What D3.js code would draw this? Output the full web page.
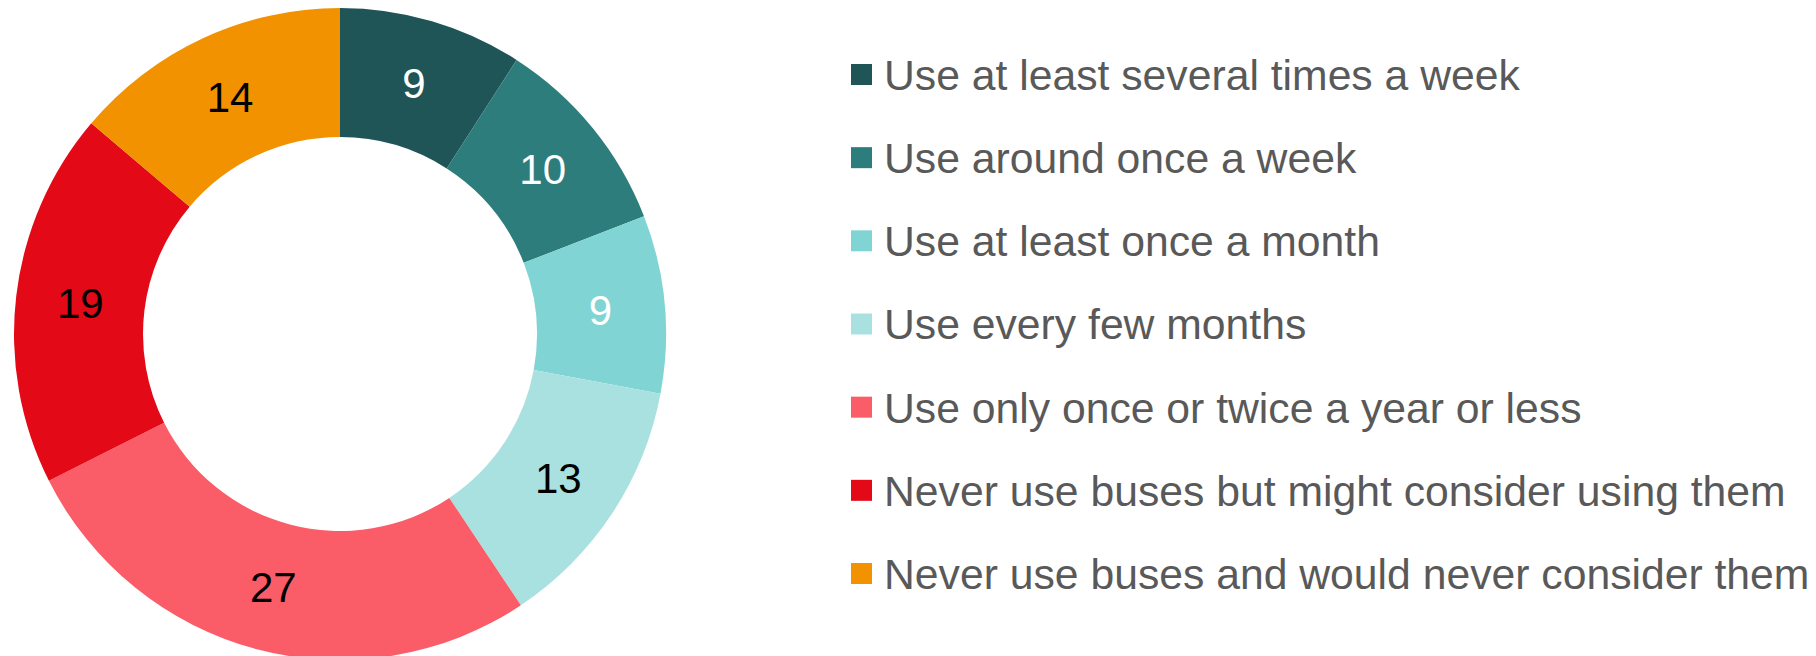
<!DOCTYPE html>
<html><head><meta charset="utf-8">
<script src="https://cdn.jsdelivr.net/npm/d3@7"></script>
<style>html,body{margin:0;padding:0;background:#fff;}svg{display:block;}</style>
</head><body>
<svg id="chart" width="1816" height="656"></svg>
<script>
const categories = [
  "Use at least several times a week",
  "Use around once a week",
  "Use at least once a month",
  "Use every few months",
  "Use only once or twice a year or less",
  "Never use buses but might consider using them",
  "Never use buses and would never consider them"
];
const values = [9.1, 10.0, 8.8, 12.7, 26.9, 18.6, 13.8];
const colors = ["#1F5556", "#2D7D7C", "#80D4D3", "#A9E1E1", "#FA5D68", "#E30916", "#F29200"];
const labelColors = ["#ffffff", "#ffffff", "#ffffff", "#000000", "#000000", "#000000", "#000000"];

const svg = d3.select("#chart");
const cx = 340, cy = 334, R = 326, r = 197;
const data = categories.map((c, i) => ({cat: c, value: values[i], i}));
const pie = d3.pie().value(d => d.value).sort(null);
const arc = d3.arc().innerRadius(r).outerRadius(R);
const g = svg.append("g").attr("transform", `translate(${cx},${cy})`);
const arcs = pie(data);
const fmt = d3.format(".0f");
g.selectAll("path").data(arcs).join("path")
  .attr("d", arc).attr("fill", d => colors[d.data.i]);
g.selectAll("text").data(arcs).join("text")
  .attr("transform", d => `translate(${arc.centroid(d)})`)
  .attr("text-anchor", "middle").attr("dy", "0.36em")
  .attr("font-family", "Liberation Sans, Arial, sans-serif")
  .attr("font-size", 42)
  .attr("fill", d => labelColors[d.data.i])
  .text(d => fmt(d.data.value));

const y = d3.scalePoint().domain(categories).range([74.5, 573.5]);
const lg = svg.append("g");
const items = lg.selectAll("g").data(data).join("g")
  .attr("transform", d => `translate(851,${y(d.cat)})`);
items.append("rect").attr("x", 0).attr("y", -10.5).attr("width", 21).attr("height", 21)
  .attr("fill", d => colors[d.i]);
items.append("text").attr("x", 33).attr("dy", "0.36em")
  .attr("font-family", "Liberation Sans, Arial, sans-serif")
  .attr("font-size", 42.7).attr("fill", "#595959")
  .text(d => d.cat);
</script>
</body></html>
